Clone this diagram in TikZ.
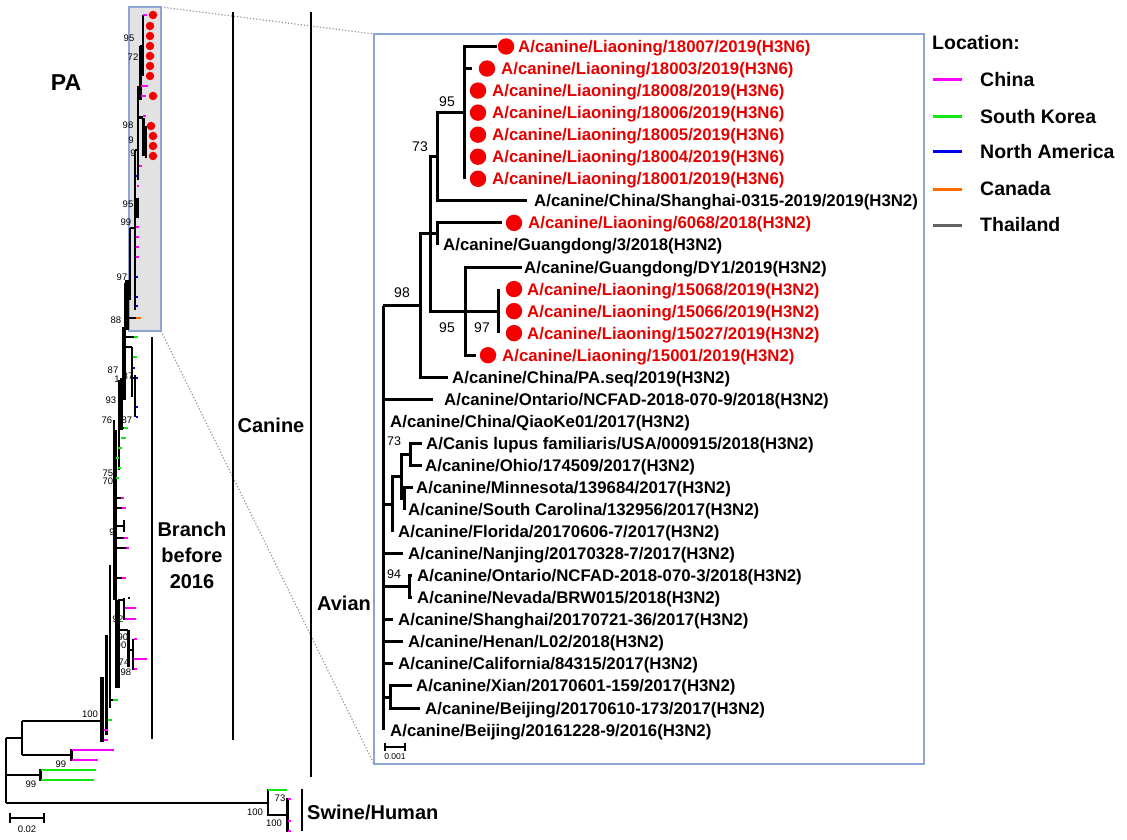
\documentclass[tikz,border=0pt]{standalone}
\usepackage{fontspec}
\setmainfont{Liberation Sans}
\definecolor{labred}{RGB}{230,0,0}
\definecolor{dotred}{RGB}{245,0,0}
\definecolor{cmag}{RGB}{255,0,255}
\definecolor{cgrn}{RGB}{20,230,20}
\definecolor{cblu}{RGB}{0,0,235}
\definecolor{corg}{RGB}{255,105,0}
\definecolor{cgry}{RGB}{100,100,100}
\definecolor{boxc}{RGB}{140,165,212}
\definecolor{boxfill}{RGB}{226,226,226}
\definecolor{dotc}{RGB}{150,150,150}
\newcommand\leafb[6]{%
  \coordinate (#1) at (#3,#4);
  \draw[br] (#2) |- (#1);
  \node[lab] (#1t) at (#5,#4) {#6};}
\newcommand\leafr[7]{%
  \coordinate (#1) at (#3,#4);
  \draw[br] (#2) |- (#1);
  \node[rdot] (#1d) at (#7,#4) {};
  \node[lab,text=labred] (#1t) at (#5,#4) {#6};}
\newcommand\tp[4]{\draw[line width=2pt,#4] (#1,#3)--(#2,#3);}
\begin{document}
\begin{tikzpicture}[x=1pt,y=-1pt,
  br/.style={line width=3pt, line join=miter},
  lt/.style={line width=2pt},
  lab/.style={font=\fontsize{16.8}{18}\selectfont\bfseries, inner sep=0pt, anchor=base west, yshift=-6pt},
  rdot/.style={circle, fill=dotred, inner sep=0pt, minimum size=16.4pt},
  sdot/.style={circle, fill=dotred, inner sep=0pt, minimum size=8.5pt},
  boot/.style={font=\fontsize{14}{15}\selectfont, inner sep=0pt},
  sboot/.style={font=\fontsize{12.5}{13}\selectfont, inner sep=0pt},
  tiny/.style={font=\fontsize{9.5}{10}\selectfont, inner sep=0pt},
  big/.style={font=\fontsize{20}{26}\selectfont\bfseries, inner sep=0pt, align=center},
  leg/.style={font=\fontsize{19.5}{21}\selectfont\bfseries, inner sep=0pt, anchor=west},
  bar/.style={line width=2pt}]
\useasboundingbox (0,0) rectangle (1127,840);
\fill[white] (0,0) rectangle (1127,840);

% ---------- grey highlight box and zoom lines ----------
\draw[boxc, fill=boxfill, line width=1.2pt] (129,7) rectangle (161,331);
\coordinate (gbtr) at (161,7);
\coordinate (gbbr) at (161,331);
\coordinate (ibtl) at (374,34);
\coordinate (ibbl) at (374,764);
\draw[dotc, dotted, line width=1.2pt] (gbtr) -- (ibtl);
\draw[dotc, dotted, line width=1.2pt] (gbbr) -- (ibbl);
\draw[boxc, line width=1.2pt] (374,34) rectangle (924,764);

% ---------- left overview tree ----------
% basal part
\draw[lt] (6,738)--(6,803);
\draw[lt] (6,738)--(22,738);
\draw[lt] (22,721)--(22,755);
\draw[lt] (22,721)--(102,721);
\draw[lt] (22,755)--(71,755);
\draw[line width=3pt] (71,749)--(71,761);
\tp{72}{114}{750}{cmag}
\tp{72}{98}{760}{cmag}
\draw[lt] (6,775)--(40,775);
\draw[line width=3pt] (40,769)--(40,781);
\tp{41}{96}{770}{cgrn}
\tp{41}{94}{780}{cgrn}
\draw[lt] (6,803)--(268,803);
\draw[lt] (268,789)--(268,816);
\tp{268}{287}{790}{cgrn}
\draw[lt] (268,815)--(287,815);
\draw[line width=3pt] (287,798)--(287,832);
\tp{288}{291}{799}{cmag}
\tp{288}{291}{821}{cmag}
\tp{288}{291}{831}{cmag}
% spine bottom
\draw[line width=4pt] (102,677)--(102,742);
\draw[line width=3pt] (106,635)--(106,735);
\draw[lt] (110,565)--(110,708);
\draw[lt] (102,740)--(104,740);
\draw[lt] (102,730)--(104,730);
\draw[lt] (106,720)--(108,720);
\draw[lt] (110,700)--(113,700);
\tp{104}{108}{740}{cmag}
\tp{104}{108}{730}{cmag}
\tp{108}{112}{720}{cgrn}
\tp{113}{118}{700}{cgrn}
\draw[lt] (114,420)--(114,600);
\draw[lt] (116,500)--(116,683);
\draw[line width=3pt] (118,600)--(118,688);
\draw[line width=4pt] (117,655)--(117,688);
\draw[lt] (118,600)--(124,600);
\draw[lt] (124,598)--(124,620);
\tp{125}{136}{608}{cmag}
\tp{125}{136}{619}{cmag}
\draw[lt] (118,630)--(128,630);
\draw[line width=3pt] (128,630)--(128,667);
\draw[lt] (128,650)--(133,650);
\draw[lt] (133,639)--(133,670);
\tp{134}{137}{639}{cmag}
\tp{134}{147}{659}{cmag}
\tp{134}{137}{669}{cmag}
\draw[lt] (128,598)--(130,598);
% spine middle
\draw[lt] (116,430)--(116,560);
\draw[lt] (119,380)--(119,470);
\draw[line width=3pt] (121,378)--(121,430);
\tp{124}{128}{428}{cgrn}
\draw[lt] (121,428)--(124,428);
\tp{121}{126}{438}{cgrn}
\tp{118}{122}{448}{cgrn}
\tp{116}{119}{458}{cgrn}
\tp{118}{121}{468}{cgrn}
\tp{116}{119}{478}{cgrn}
\draw[lt] (116,498)--(121,498);
\tp{121}{124}{498}{cmag}
\draw[lt] (116,508)--(122,508);
\tp{122}{126}{508}{cmag}
\draw[lt] (116,526)--(124,526);
\draw[lt] (124,520)--(124,532);
\draw[lt] (116,538)--(124,538);
\tp{124}{128}{538}{cmag}
\draw[lt] (116,548)--(126,548);
\tp{126}{129}{548}{cmag}
\draw[lt] (114,578)--(122,578);
\tp{122}{126}{578}{cmag}
% spine upper (below box)
\draw[line width=4pt] (127,280)--(127,330);
\draw[line width=4pt] (124,327)--(124,400);
\draw[lt] (124,347)--(132,347);
\draw[lt] (132,347)--(132,397);
\draw[lt] (132,378)--(135,378);
\draw[lt] (135,375)--(135,417);
\tp{136}{141}{318}{corg}
\draw[lt] (127,318)--(136,318);
\tp{134}{138}{337}{cgrn}
\draw[lt] (124,337)--(134,337);
\tp{133}{137}{357}{cgrn}
\tp{133}{135}{368}{cblu}
\tp{136}{138}{378}{cblu}
\tp{136}{138}{407}{cblu}
\tp{136}{138}{417}{cblu}
% inside box
\draw[lt] (125,283)--(125,330);
\draw[lt] (125,283)--(130,283);
\draw[lt] (130,228)--(130,300);
\draw[lt] (130,228)--(135,228);
\draw[lt] (135,150)--(135,310);
\draw[line width=4pt] (137,198)--(137,218);
\draw[lt] (135,150)--(138,150);
\draw[lt] (138,86)--(138,180);
\draw[line width=3pt] (140,46)--(140,100);
\draw[lt] (140,46)--(143,46);
\draw[lt] (143,15)--(143,76);
\draw[line width=3pt] (139,118)--(143,118);
\draw[line width=3pt] (143,118)--(143,156);
\draw[lt] (143,128)--(146,128);
\draw[lt] (146,126)--(146,158);
\tp{143}{147}{15}{cmag}
\tp{141}{148}{86}{cmag}
\tp{141}{146}{96}{cmag}
\tp{143}{146}{116}{cmag}
\tp{139}{142}{166}{cmag}
\tp{136}{138}{176}{cblu}
\tp{137}{139}{186}{cmag}
\tp{136}{139}{227}{cmag}
\tp{136}{139}{237}{cmag}
\tp{136}{139}{247}{cmag}
\tp{136}{139}{257}{cmag}
\tp{136}{138}{277}{cblu}
\tp{136}{138}{297}{cblu}
\tp{136}{138}{306}{cblu}
\node[sdot] (ld1) at (153,15) {};
\node[sdot] (ld2) at (150,26) {};
\node[sdot] (ld3) at (150,36) {};
\node[sdot] (ld4) at (150,46) {};
\node[sdot] (ld5) at (150,56) {};
\node[sdot] (ld6) at (150,66) {};
\node[sdot] (ld7) at (150,76) {};
\node[sdot] (ld8) at (153,96) {};
\node[sdot] (ld9) at (151,126) {};
\node[sdot] (ld10) at (153,136) {};
\node[sdot] (ld11) at (153,146) {};
\node[sdot] (ld12) at (153,156) {};
% bootstrap labels (overview)
\node[tiny] (b1) at (129,38) {95};
\node[tiny] (b2) at (133,57) {72};
\node[tiny] (b3) at (128,125) {98};
\node[tiny] (b4) at (131,140) {9};
\node[tiny] (b5) at (133,153) {9};
\node[tiny] (b6) at (128,204) {95};
\node[tiny] (b7) at (126,222) {99};
\node[tiny] (b8) at (122,277) {97};
\node[tiny] (b9) at (116,320) {88};
\node[tiny] (b10) at (113,370) {87};
\node[tiny] (b11) at (117,379) {1};
\node[tiny] (b12) at (128,376) {87};
\node[tiny] (b13) at (111,400) {93};
\node[tiny] (b14) at (107,420) {76};
\node[tiny] (b15) at (127,420) {87};
\node[tiny] (b16) at (108,473) {75};
\node[tiny] (b17) at (108,481) {70};
\node[tiny] (b18) at (112,532) {9};
\node[tiny] (b19) at (118,619) {92};
\node[tiny] (b20) at (123,637) {90};
\node[tiny] (b21) at (121,645) {90};
\node[tiny] (b22) at (124,662) {74};
\node[tiny] (b23) at (126,672) {98};
\node[tiny] (b24) at (90,714) {100};
\node[tiny] (b25) at (61,764) {99};
\node[tiny] (b26) at (31,784) {99};
\node[tiny] (b27) at (280,798) {73};
\node[tiny] (b28) at (255,812) {100};
\node[tiny] (b29) at (274,823) {100};
% scale bar 0.02
\coordinate (sa) at (10,818);
\coordinate (sb) at (44,818);
\draw[lt] (sa) -- (sb);
\draw[lt] (10,813)--(10,823);
\draw[lt] (44,813)--(44,823);
\node[tiny] (s02) at (27,829) {0.02};

% ---------- group bars and labels ----------
\node[font=\fontsize{23}{24}\selectfont\bfseries, inner sep=0pt] (pa) at (66,83) {PA};
\coordinate (bt) at (152,337); \coordinate (bb) at (152,739);
\draw[bar] (bt) -- (bb);
\node[big] (branch) at (192,555) {Branch\\before\\2016};
\coordinate (ct) at (233,12); \coordinate (cb) at (233,740);
\draw[bar] (ct) -- (cb);
\node[big] (canine) at (271,425) {Canine};
\coordinate (at) at (311,12); \coordinate (ab) at (311,777);
\draw[bar] (at) -- (ab);
\node[big] (avian) at (344,603) {Avian};
\coordinate (swt) at (302,789); \coordinate (swb) at (302,831);
\draw[bar] (swt) -- (swb);
\node[big, anchor=west] (swine) at (307,812) {Swine/Human};

% ---------- inset tree ----------
\coordinate (r) at (383,305.6);
\coordinate (n98) at (420,305.6);
\coordinate (nX) at (430,233.9);
\coordinate (n73) at (437,156.75);
\coordinate (n95) at (464,112.65);
\coordinate (nG) at (437,233.9);
\coordinate (n95b) at (465,311.1);
\coordinate (n97) at (498,311.1);
\coordinate (nU) at (392,504);
\coordinate (nW) at (401,476.5);
\coordinate (nCO) at (410,454.4);
\coordinate (nMS) at (404,498.5);
\coordinate (n94) at (409,586.7);
\coordinate (nXB) at (390,697);
\draw[br] (r) -- (n98);
\draw[br] (n98) |- (nX);
\draw[br] (nX) |- (n73);
\draw[br] (nX) |- (nG);
\draw[br] (nX) |- (n95b);
\draw[br] (n73) |- (n95);
\draw[br] (n95b) |- (n97);
\draw[br] (r) |- (nU);
\draw[br] (nU) |- (nW);
\draw[br] (nW) |- (nCO);
\draw[br] (nW) |- (nMS);
\draw[br] (r) |- (n94);
\draw[br] (r) |- (nXB);

\leafr{e1}{n95}{497}{46.5}{518}{A/canine/Liaoning/18007/2019(H3N6)}{506}
\leafr{e2}{n95}{472}{68.55}{501}{A/canine/Liaoning/18003/2019(H3N6)}{487}
\leafr{e3}{n95}{464}{90.6}{492}{A/canine/Liaoning/18008/2019(H3N6)}{478}
\leafr{e4}{n95}{464}{112.65}{492}{A/canine/Liaoning/18006/2019(H3N6)}{478}
\leafr{e5}{n95}{464}{134.7}{492}{A/canine/Liaoning/18005/2019(H3N6)}{478}
\leafr{e6}{n95}{464}{156.75}{492}{A/canine/Liaoning/18004/2019(H3N6)}{478}
\leafr{e7}{n95}{464}{178.8}{492}{A/canine/Liaoning/18001/2019(H3N6)}{478}
\leafb{e8}{n73}{527}{200.85}{534}{A/canine/China/Shanghai-0315-2019/2019(H3N2)}
\leafr{e9}{nG}{502}{222.9}{528}{A/canine/Liaoning/6068/2018(H3N2)}{514}
\leafb{e10}{nG}{437}{244.95}{443}{A/canine/Guangdong/3/2018(H3N2)}
\leafb{e11}{n95b}{522}{267}{524}{A/canine/Guangdong/DY1/2019(H3N2)}
\leafr{e12}{n97}{498}{289.05}{527}{A/canine/Liaoning/15068/2019(H3N2)}{514}
\leafr{e13}{n97}{498}{311.1}{527}{A/canine/Liaoning/15066/2019(H3N2)}{514}
\leafr{e14}{n97}{498}{333.15}{527}{A/canine/Liaoning/15027/2019(H3N2)}{514}
\leafr{e15}{n95b}{476}{355.2}{502}{A/canine/Liaoning/15001/2019(H3N2)}{488}
\leafb{e16}{n98}{448}{377.25}{452}{A/canine/China/PA.seq/2019(H3N2)}
\leafb{e17}{r}{433}{399.3}{444}{A/canine/Ontario/NCFAD-2018-070-9/2018(H3N2)}
\leafb{e18}{r}{383}{421.35}{390}{A/canine/China/QiaoKe01/2017(H3N2)}
\leafb{e19}{nCO}{422}{443.4}{426}{A/Canis lupus familiaris/USA/000915/2018(H3N2)}
\leafb{e20}{nCO}{422}{465.45}{425}{A/canine/Ohio/174509/2017(H3N2)}
\leafb{e21}{nMS}{413}{487.5}{416}{A/canine/Minnesota/139684/2017(H3N2)}
\leafb{e22}{nMS}{404}{509.55}{408}{A/canine/South Carolina/132956/2017(H3N2)}
\leafb{e23}{nU}{392}{531.6}{398}{A/canine/Florida/20170606-7/2017(H3N2)}
\leafb{e24}{r}{403}{553.65}{408}{A/canine/Nanjing/20170328-7/2017(H3N2)}
\leafb{e25}{n94}{412}{575.7}{417}{A/canine/Ontario/NCFAD-2018-070-3/2018(H3N2)}
\leafb{e26}{n94}{412}{597.75}{417}{A/canine/Nevada/BRW015/2018(H3N2)}
\leafb{e27}{r}{393}{619.8}{398}{A/canine/Shanghai/20170721-36/2017(H3N2)}
\leafb{e28}{r}{403}{641.85}{408}{A/canine/Henan/L02/2018(H3N2)}
\leafb{e29}{r}{393}{663.9}{398}{A/canine/California/84315/2017(H3N2)}
\leafb{e30}{nXB}{412}{685.95}{416}{A/canine/Xian/20170601-159/2017(H3N2)}
\leafb{e31}{nXB}{420}{708}{425}{A/canine/Beijing/20170610-173/2017(H3N2)}
\leafb{e32}{r}{383}{730.05}{390}{A/canine/Beijing/20161228-9/2016(H3N2)}

% inset bootstrap values
\node[boot] (i95a) at (447,102) {95};
\node[boot] (i73a) at (420,147) {73};
\node[boot] (i98) at (402,293) {98};
\node[boot] (i95b) at (447,328) {95};
\node[boot] (i97) at (482,328) {97};
\node[sboot] (i73b) at (394,441) {73};
\node[sboot] (i94) at (394,574) {94};
% inset scale bar
\coordinate (ia) at (385,747);
\coordinate (ib) at (405,747);
\draw[line width=1.5pt] (ia) -- (ib);
\draw[line width=1.5pt] (385,743)--(385,751);
\draw[line width=1.5pt] (405,743)--(405,751);
\node[font=\fontsize{8.5}{9}\selectfont, inner sep=0pt] (s001) at (395,757) {0.001};

% ---------- legend ----------
\node[leg] (loc) at (932,43) {Location:};
\coordinate (l1a) at (933,80); \coordinate (l1b) at (962,80);
\draw[line width=3pt, cmag] (l1a) -- (l1b);
\node[leg] (lchina) at (980,80) {China};
\coordinate (l2a) at (933,117); \coordinate (l2b) at (962,117);
\draw[line width=3pt, cgrn] (l2a) -- (l2b);
\node[leg] (lsk) at (980,117) {South Korea};
\coordinate (l3a) at (933,152); \coordinate (l3b) at (962,152);
\draw[line width=3pt, cblu] (l3a) -- (l3b);
\node[leg] (lna) at (980,152) {North America};
\coordinate (l4a) at (933,189); \coordinate (l4b) at (962,189);
\draw[line width=3pt, corg] (l4a) -- (l4b);
\node[leg] (lca) at (980,189) {Canada};
\coordinate (l5a) at (933,225); \coordinate (l5b) at (962,225);
\draw[line width=3pt, cgry] (l5a) -- (l5b);
\node[leg] (lth) at (980,225) {Thailand};
\end{tikzpicture}
\end{document}
